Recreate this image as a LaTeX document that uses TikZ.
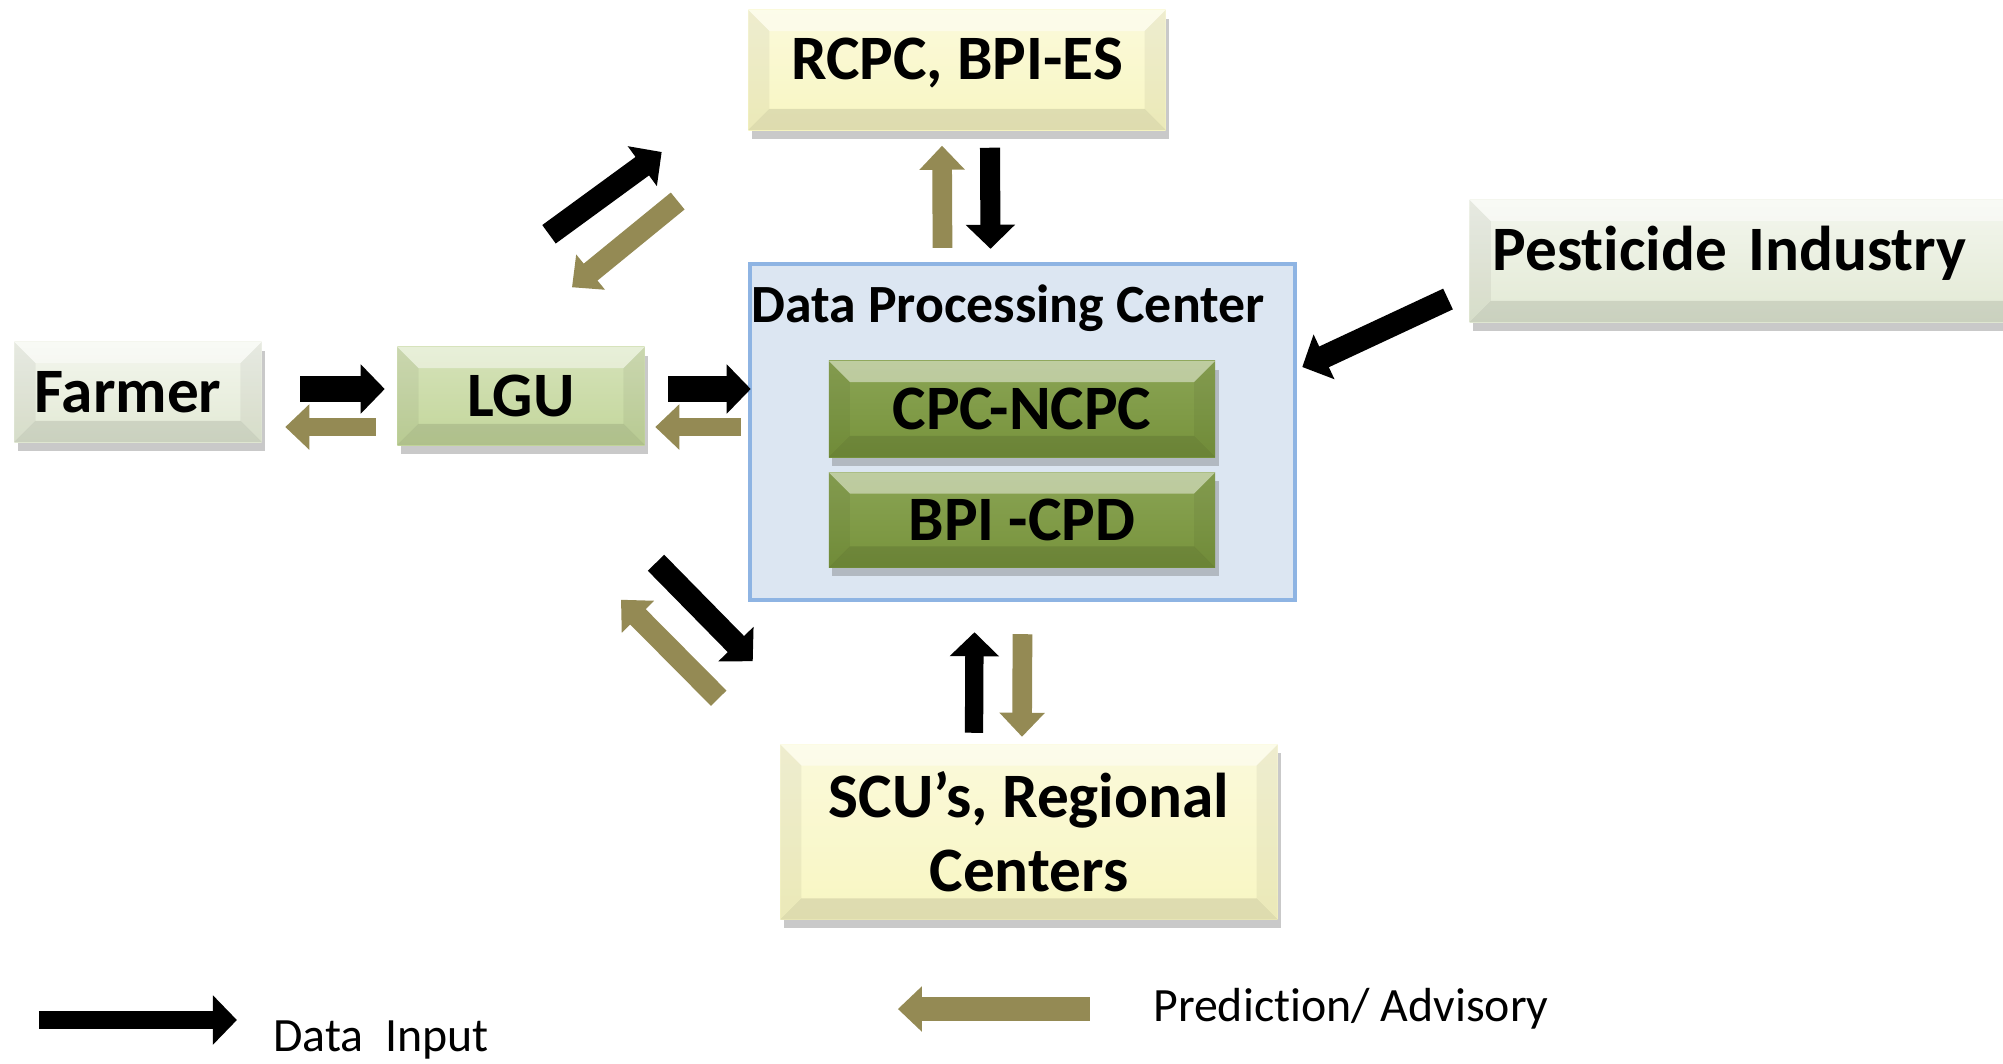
\documentclass[tikz,border=0pt]{standalone}
\usepackage{fontspec}
\setmainfont{Carlito}[Ligatures=NoCommon]
\usepackage{xcolor}
\usepackage{tikz}
\usetikzlibrary{arrows.meta, positioning, shadows}

\definecolor{adviceclr}{HTML}{948A54}
\definecolor{paleclr}{HTML}{E2E9D4}
\definecolor{lguclr}{HTML}{C3D69B}
\definecolor{creamclr}{HTML}{F8F6C2}
\definecolor{unitclr}{HTML}{77933C}
\definecolor{dpcfill}{HTML}{DCE6F2}
\definecolor{dpcline}{HTML}{8EB4E3}

\tikzset{
    bevel/.style={path picture={
        \path (path picture bounding box.north west) coordinate (bA)
              (path picture bounding box.north east) coordinate (bB)
              (path picture bounding box.south east) coordinate (bC)
              (path picture bounding box.south west) coordinate (bD);
        \fill[white, opacity=.45] (bA) -- (bB) -- ([xshift=-6pt,yshift=-6pt]bB) -- ([xshift=6pt,yshift=-6pt]bA) -- cycle;
        \fill[black, opacity=.05] (bA) -- ([xshift=6pt,yshift=-6pt]bA) -- ([xshift=6pt,yshift=6pt]bD) -- (bD) -- cycle;
        \fill[black, opacity=.05] (bB) -- ([xshift=-6pt,yshift=-6pt]bB) -- ([xshift=-6pt,yshift=6pt]bC) -- (bC) -- cycle;
        \fill[black, opacity=.10] (bD) -- ([xshift=6pt,yshift=6pt]bD) -- ([xshift=-6pt,yshift=6pt]bC) -- (bC) -- cycle;
    }},
    box/.style={bevel, inner sep=0pt, align=center,
        font=\fontsize{18}{21}\selectfont\bfseries,
        drop shadow={shadow xshift=1pt, shadow yshift=-2.5pt, opacity=.35, fill=black!60}},
    datain/.style={line width=#1, black, -{Triangle[length=0.24cm, width=0.48cm]}},
    datain/.default=6.5pt,
    advice/.style={line width=#1, adviceclr, -{Triangle[length=0.24cm, width=0.44cm]}},
    advice/.default=5.6pt
}

\begin{document}
\begin{tikzpicture}[x=0.01cm, y=-0.01cm]
    \useasboundingbox[fill=white] (0,0) rectangle (2003,1063);

    % Data Processing Center
    \node[draw=dpcline, fill=dpcfill, line width=1.2pt, minimum width=5.45cm,
          minimum height=3.36cm, inner sep=0pt] (dpc) at (1022.5,432) {};
    \node[font=\fontsize{15.3}{17}\selectfont\bfseries] (dpctitle) at (1008,308) {Data Processing Center};
    \node[box, top color=unitclr!75!lguclr, bottom color=unitclr, minimum width=3.86cm,
          minimum height=0.96cm] (cpc) at (1022,409) {CPC-NCPC};
    \node[box, top color=unitclr!75!lguclr, bottom color=unitclr, minimum width=3.86cm,
          minimum height=0.95cm] (bpi) at (1022,520) {BPI -CPD};

    % outer boxes
    \node[box, top color=paleclr!40, bottom color=paleclr, minimum width=2.47cm,
          minimum height=1.00cm] (farmer) at (138,392) {Farmer\hspace{0.2cm}};
    \node[box, top color=lguclr!70!white, bottom color=lguclr, minimum width=2.47cm,
          minimum height=0.98cm] (lgu) at (521,396) {LGU};
    \node[box, top color=creamclr!60, bottom color=creamclr, minimum width=4.17cm,
          minimum height=1.20cm, text depth=0.22cm] (rcpc) at (957,70) {RCPC, BPI-ES};
    \node[box, top color=paleclr!40, bottom color=paleclr, anchor=west, align=left,
          minimum width=5.6cm, minimum height=1.22cm, text width=5.14cm, text depth=0.26cm,
          inner xsep=0.23cm] (pest) at (1469,261) {Pesticide Industry};
    \node[box, top color=creamclr!60, bottom color=creamclr, minimum width=4.97cm,
          minimum height=1.75cm] (scu) at (1029,832) {SCU’s, Regional\\Centers};

    % Farmer - LGU - DPC
    \draw[datain=7.2pt] ([shift={(38,-3)}]farmer.east) -- ([shift={(-12,-7)}]lgu.west);
    \draw[advice=5.1pt] ([shift={(-21,31)}]lgu.west) -- ([shift={(23,35)}]farmer.east);
    \draw[datain=7.2pt] ([shift={(23,-7)}]lgu.east) -- ([shift={(3,-43)}]dpc.west);
    \draw[advice=5.1pt] ([shift={(-7,-5)}]dpc.west) -- ([shift={(10,31)}]lgu.east);

    % LGU - RCPC
    \draw[datain] ([shift={(28,-112)}]lgu.north) -- ([shift={(-86,82)}]rcpc.west);
    \draw[advice=6.2pt] ([shift={(-70,131)}]rcpc.west) -- ([shift={(51,-59)}]lgu.north);

    % RCPC - DPC
    \draw[advice] ([shift={(-80,-14)}]dpc.north) -- ([shift={(-15,15)}]rcpc.south);
    \draw[datain=5.7pt] ([shift={(33,17)}]rcpc.south) -- ([shift={(-32,-13)}]dpc.north);

    % Pesticide Industry - DPC
    \draw[datain] ([shift={(-21,38)}]pest.west) -- ([shift={(5,-65)}]dpc.east);

    % LGU - SCU
    \draw[datain] ([shift={(135,117)}]lgu.south) -- ([shift={(5,59)}]dpc.south west);
    \draw[advice=6.2pt] ([shift={(-29,96)}]dpc.south west) -- ([shift={(100,154)}]lgu.south);

    % SCU - DPC
    \draw[datain=5.2pt] ([shift={(-55,-11)}]scu.north) -- ([shift={(-48,30)}]dpc.south);
    \draw[advice] ([shift={(0,32)}]dpc.south) -- ([shift={(-7,-7)}]scu.north);

    % legend
    \node[font=\fontsize{13.6}{16}\selectfont] (keyin) at (381,1040) {Data\ \ Input};
    \node[font=\fontsize{13.6}{16}\selectfont] (keyout) at (1351,1009) {Prediction/ Advisory};
    \draw[datain=5.1pt] ([shift={(-222,-20)}]keyin.west) -- ([shift={(-24,-20)}]keyin.west);
    \draw[advice=7pt] ([shift={(-51,0)}]keyout.west) -- ([shift={(-243,0)}]keyout.west);
\end{tikzpicture}
\end{document}
